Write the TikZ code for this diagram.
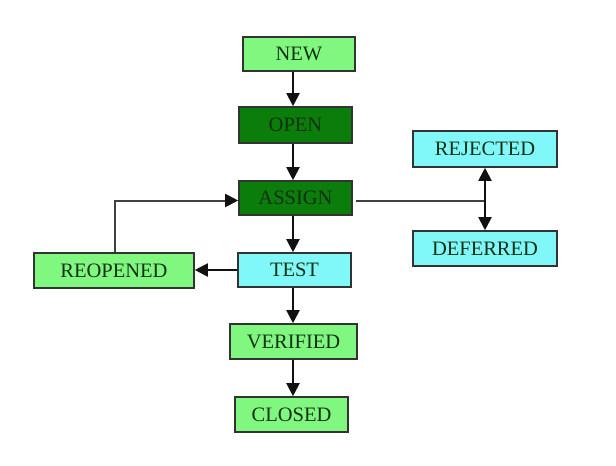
\documentclass[tikz,border=0pt]{standalone}
\usepackage{fontspec}
\setmainfont{Liberation Serif}
\usetikzlibrary{arrows.meta}
\definecolor{lgreen}{HTML}{80F880}
\definecolor{dgreen}{HTML}{0B7D0B}
\definecolor{lcyan}{HTML}{80F8FA}
\definecolor{bord}{HTML}{333333}
\definecolor{txt}{HTML}{143014}
\definecolor{ink}{HTML}{111111}
\begin{document}
\begin{tikzpicture}[x=1pt,y=-1pt,
  box/.style={draw=bord,line width=1.6pt,inner sep=0pt,text=txt,
    font=\fontsize{20.5}{21}\selectfont},
  lg/.style={box,fill=lgreen},
  dg/.style={box,fill=dgreen},
  cy/.style={box,fill=lcyan},
  tip/.style={Triangle[length=13pt,width=13pt]},
  arr/.style={draw=ink,line width=2pt,-{Triangle[length=13pt,width=13pt]}},
  dbl/.style={draw=ink,line width=2pt,{Triangle[length=13pt,width=13pt]}-{Triangle[length=13pt,width=13pt]}},
  ln/.style={draw=ink!80,line width=2pt}]
\fill[white] (0,0) rectangle (616,466);
\useasboundingbox (0,0) rectangle (616,466);
\node[lg,minimum width=112pt,minimum height=34pt] (new) at (299,54) {NEW};
\node[dg,minimum width=113pt,minimum height=36pt] (open) at (295.5,125) {OPEN};
\node[dg,minimum width=113pt,minimum height=34pt] (assign) at (295.5,198) {ASSIGN};
\node[cy,minimum width=113pt,minimum height=34pt] (test) at (294.5,270) {TEST};
\node[lg,minimum width=160pt,minimum height=35pt] (reopened) at (114,270.5) {REOPENED};
\node[lg,minimum width=127pt,minimum height=35pt] (verified) at (293.5,341.5) {VERIFIED};
\node[lg,minimum width=113pt,minimum height=35pt] (closed) at (291.5,414.5) {CLOSED};
\node[cy,minimum width=144pt,minimum height=36pt] (rejected) at (485,149) {REJECTED};
\node[cy,minimum width=144pt,minimum height=35pt] (deferred) at (485,248.5) {DEFERRED};
\coordinate (cx) at (293,0);
\coordinate (jn) at (485,200.5);
\coordinate (up) at (115,200.5);
\draw[arr] (new.south -| cx) -- (open.north -| cx);
\draw[arr] (open.south -| cx) -- (assign.north -| cx);
\draw[arr] (assign.south -| cx) -- (test.north -| cx);
\draw[arr] (test.south -| cx) -- (verified.north -| cx);
\draw[arr] (verified.south -| cx) -- (closed.north -| cx);
\draw[arr] (test.west) -- (test.west -| reopened.east);
\draw[ln] (reopened.north -| up) -- (up) -- ([xshift=-12pt]assign.west |- up);
\draw[arr] ([xshift=-13pt]assign.west |- up) -- (assign.west |- up);
\draw[ln] ([xshift=3pt]assign.east |- jn) -- (jn);
\draw[dbl] (rejected.south) -- (deferred.north);
\end{tikzpicture}
\end{document}
